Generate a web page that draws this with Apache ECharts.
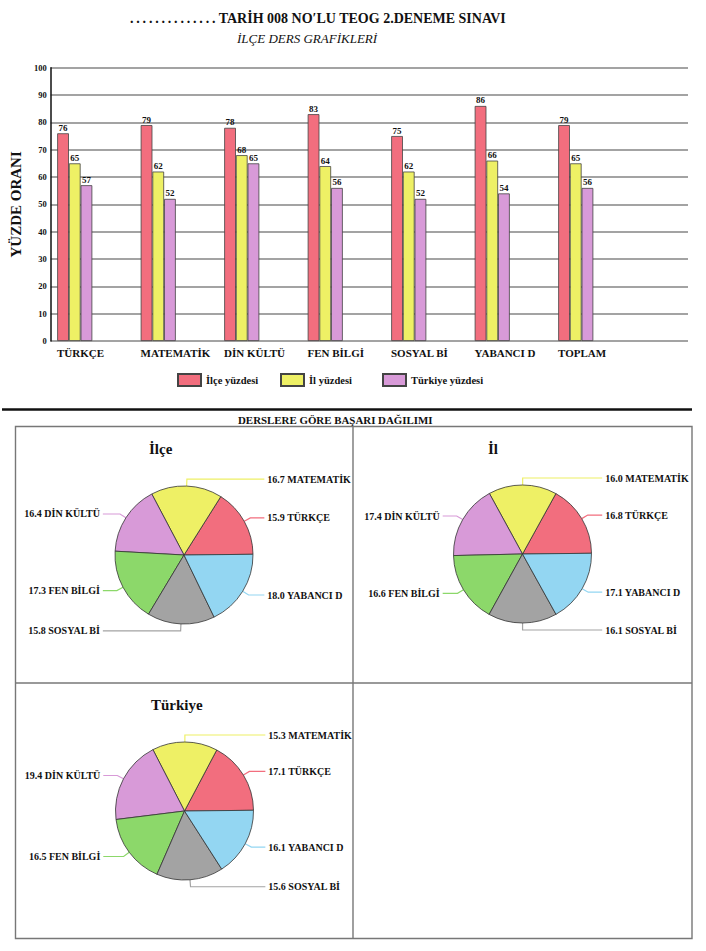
<!DOCTYPE html>
<html>
<head>
<meta charset="utf-8">
<script src="https://cdn.jsdelivr.net/npm/echarts@6/dist/echarts.min.js"></script>
<style>
html,body{margin:0;padding:0;background:#fff;}
#c{width:706px;height:951px;}
</style>
</head>
<body>
<div id="c"></div>
<script>
// ---- data ----
var categories = ['TÜRKÇE', 'MATEMATİK', 'DİN KÜLTÜ', 'FEN BİLGİ', 'SOSYAL Bİ', 'YABANCI D', 'TOPLAM'];
var ilceValues = [76, 79, 78, 83, 75, 86, 79];
var ilValues = [65, 62, 68, 64, 62, 66, 65];
var turkiyeValues = [57, 52, 65, 56, 52, 54, 56];
var seriesNames = ['İlçe yüzdesi', 'İl yüzdesi', 'Türkiye yüzdesi'];
var yTicks = [0, 10, 20, 30, 40, 50, 60, 70, 80, 90, 100];

var pieSubjects = ['TÜRKÇE', 'MATEMATİK', 'DİN KÜLTÜ', 'FEN BİLGİ', 'SOSYAL Bİ', 'YABANCI D'];
var ilcePie = [15.9, 16.7, 16.4, 17.3, 15.8, 18.0];
var ilPie = [16.8, 16.0, 17.4, 16.6, 16.1, 17.1];
var turkiyePie = [17.1, 15.3, 19.4, 16.5, 15.6, 16.1];
var pieTitles = ['İlçe', 'İl', 'Türkiye'];

// ---- styles ----
var SERIF = "'Liberation Serif', 'DejaVu Serif', serif";
var barColors = ['#f26e7e', '#eef065', '#d89ad8'];
var pieColors = ['#f26e7e', '#eef065', '#d89ad8', '#8cd86a', '#a3a3a3', '#93d6f2'];

var chart = echarts.init(document.getElementById('c'), null, {renderer: 'svg'});

function pieSeries(values, center) {
  return {
    type: 'pie',
    center: center,
    radius: 69,
    startAngle: 0.6,
    clockwise: false,
    silent: true,
    animation: false,
    data: pieSubjects.map(function (n, i) {
      return {name: n, value: values[i], itemStyle: {color: pieColors[i]}};
    }),
    itemStyle: {borderColor: '#333', borderWidth: 0.8},
    label: {
      formatter: function (p) { return p.value.toFixed(1) + ' ' + p.name; },
      fontFamily: SERIF, fontWeight: 'bold', fontSize: 10, color: '#111',
      alignTo: 'labelLine', distanceToLabelLine: 3
    },
    labelLine: {length: 7, length2: 14, lineStyle: {width: 1.2}},
    emphasis: {disabled: true}
  };
}

var dots = '.\u2009.\u2009.\u2009.\u2009.\u2009.\u2009.\u2009.\u2009.\u2009.\u2009.\u2009.\u2009.\u2009.';

var option = {
  animation: false,
  backgroundColor: '#fff',
  textStyle: {fontFamily: SERIF},
  title: [
    {text: dots + ' TARİH 008 NO′LU TEOG 2.DENEME SINAVI', left: 130, top: 11, padding: 0,
     textStyle: {fontFamily: SERIF, fontWeight: 'bold', fontSize: 14, color: '#111'}},
    {text: 'İLÇE DERS GRAFİKLERİ', left: 237, top: 32, padding: 0,
     textStyle: {fontFamily: SERIF, fontStyle: 'italic', fontWeight: 'normal', fontSize: 13, color: '#111'}},
    {text: 'DERSLERE GÖRE BAŞARI DAĞILIMI', left: 238, top: 414, padding: 0,
     textStyle: {fontFamily: SERIF, fontWeight: 'bold', fontSize: 10.9, color: '#111'}},
    {text: pieTitles[0], left: 149, top: 441, padding: 0,
     textStyle: {fontFamily: SERIF, fontWeight: 'bold', fontSize: 15, color: '#111'}},
    {text: pieTitles[1], left: 488, top: 441, padding: 0,
     textStyle: {fontFamily: SERIF, fontWeight: 'bold', fontSize: 15, color: '#111'}},
    {text: pieTitles[2], left: 151, top: 697, padding: 0,
     textStyle: {fontFamily: SERIF, fontWeight: 'bold', fontSize: 15, color: '#111'}}
  ],
  legend: [
    {data: [seriesNames[0]], left: 177, top: 373, padding: 0, itemWidth: 23, itemHeight: 12, icon: 'rect',
     textStyle: {fontFamily: SERIF, fontWeight: 'bold', fontSize: 10.5, color: '#111'}, selectedMode: false},
    {data: [seriesNames[1]], left: 280, top: 373, padding: 0, itemWidth: 23, itemHeight: 12, icon: 'rect',
     textStyle: {fontFamily: SERIF, fontWeight: 'bold', fontSize: 10.5, color: '#111'}, selectedMode: false},
    {data: [seriesNames[2]], left: 382, top: 373, padding: 0, itemWidth: 23, itemHeight: 12, icon: 'rect',
     textStyle: {fontFamily: SERIF, fontWeight: 'bold', fontSize: 10.5, color: '#111'}, selectedMode: false}
  ],
  grid: [
    {left: 50, right: 18, top: 67.7, height: 273.3},
    {left: 33, width: 584.5, top: 67.7, height: 273.3},
    {left: 57, width: 501, top: 67.7, height: 273.3}
  ],
  xAxis: [
    {type: 'value', gridIndex: 0, show: false, min: 0, max: 1},
    {type: 'category', gridIndex: 1, data: categories, show: false},
    {type: 'category', gridIndex: 2, data: categories, boundaryGap: false,
     axisLine: {show: false}, axisTick: {show: false}, splitLine: {show: false},
     axisLabel: {interval: 0, align: 'left', margin: 6, fontFamily: SERIF, fontWeight: 'bold', fontSize: 11, color: '#111'}}
  ],
  yAxis: [
    {type: 'value', gridIndex: 0, min: yTicks[0], max: yTicks[yTicks.length - 1], interval: 10,
     name: 'YÜZDE ORANI', nameLocation: 'middle', nameRotate: 90, nameGap: 20,
     nameTextStyle: {fontFamily: SERIF, fontWeight: 'bold', fontSize: 15, color: '#111'},
     axisLine: {show: true, lineStyle: {color: '#111', width: 1.5}},
     axisTick: {show: false},
     axisLabel: {margin: 4, fontFamily: SERIF, fontWeight: 'bold', fontSize: 8.5, color: '#111'},
     splitLine: {show: true, lineStyle: {color: '#858585', width: 1.6}}},
    {type: 'value', gridIndex: 1, min: 0, max: 100, show: false, splitLine: {show: false}},
    {type: 'value', gridIndex: 2, min: 0, max: 100, show: false, splitLine: {show: false}}
  ],
  series: [
    {name: seriesNames[0], type: 'bar', xAxisIndex: 1, yAxisIndex: 1, data: ilceValues,
     barWidth: 11.7, barGap: '0%', itemStyle: {color: barColors[0], borderColor: '#444', borderWidth: 0.8},
     label: {show: true, position: 'top', distance: 1, fontFamily: SERIF, fontWeight: 'bold', fontSize: 9, color: '#111'},
     silent: true},
    {name: seriesNames[1], type: 'bar', xAxisIndex: 1, yAxisIndex: 1, data: ilValues,
     barWidth: 11.7, barGap: '0%', itemStyle: {color: barColors[1], borderColor: '#444', borderWidth: 0.8},
     label: {show: true, position: 'top', distance: 1, fontFamily: SERIF, fontWeight: 'bold', fontSize: 9, color: '#111'},
     silent: true},
    {name: seriesNames[2], type: 'bar', xAxisIndex: 1, yAxisIndex: 1, data: turkiyeValues,
     barWidth: 11.7, barGap: '0%', itemStyle: {color: barColors[2], borderColor: '#444', borderWidth: 0.8},
     label: {show: true, position: 'top', distance: 1, fontFamily: SERIF, fontWeight: 'bold', fontSize: 9, color: '#111'},
     silent: true},
    pieSeries(ilcePie, [184, 555]),
    pieSeries(ilPie, [522.5, 554]),
    pieSeries(turkiyePie, [184.5, 811])
  ],
  graphic: [
    {type: 'line', shape: {x1: 2, y1: 409.5, x2: 692, y2: 409.5}, style: {stroke: '#111', lineWidth: 2.6}, silent: true},
    {type: 'rect', shape: {x: 15.5, y: 426.5, width: 676.5, height: 512}, style: {fill: 'none', stroke: '#777', lineWidth: 1.4}, silent: true},
    {type: 'line', shape: {x1: 353, y1: 426.5, x2: 353, y2: 938.5}, style: {stroke: '#777', lineWidth: 1.4}, silent: true},
    {type: 'line', shape: {x1: 15.5, y1: 683, x2: 692, y2: 683}, style: {stroke: '#777', lineWidth: 1.4}, silent: true}
  ]
};
chart.setOption(option);
</script>
</body>
</html>
